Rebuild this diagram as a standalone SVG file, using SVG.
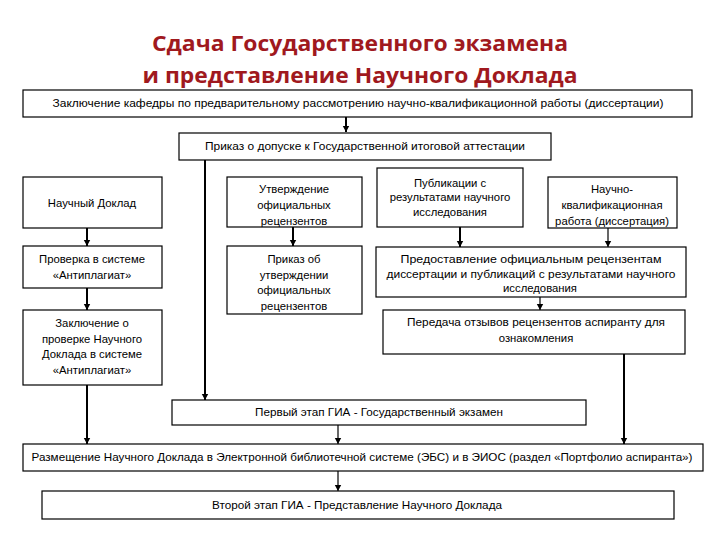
<svg xmlns="http://www.w3.org/2000/svg" width="720" height="540" viewBox="0 0 720 540">
<style>
.box{fill:#fff;stroke:#000;stroke-width:1.2}
.t{font-family:"Liberation Sans",Arial,sans-serif;font-size:11.3px;fill:#000;text-anchor:middle}
.title{font-family:"Open Sans","Noto Sans",sans-serif;font-weight:bold;font-size:22px;fill:#a0191e;text-anchor:middle}
.c{stroke:#000;fill:none}
.w2{stroke-width:2}
.w1{stroke-width:1.2}
</style>
<defs>
<marker id="a" markerUnits="userSpaceOnUse" markerWidth="8" markerHeight="8" refX="7" refY="4" orient="auto" viewBox="0 0 8 8">
<path d="M1,0.8 L7,4 L1,7.2 Z" fill="#000"/>
</marker>
</defs>
<rect width="720" height="540" fill="#fff"/>
<g id="title">
<text class="title" x="360" y="51" textLength="416" lengthAdjust="spacingAndGlyphs">Сдача Государственного экзамена</text>
<text class="title" x="360" y="83" textLength="435" lengthAdjust="spacingAndGlyphs">и представление Научного Доклада</text>
</g>
<g id="connectors">
<path class="c w2" d="M346,117 V132" marker-end="url(#a)"/>
<path class="c w2" d="M205,160 V400" marker-end="url(#a)"/>
<path class="c w2" d="M87,228 V246" marker-end="url(#a)"/>
<path class="c w2" d="M87,288 V310" marker-end="url(#a)"/>
<path class="c w2" d="M87,385 V444" marker-end="url(#a)"/>
<path class="c w2" d="M293,227 V246" marker-end="url(#a)"/>
<path class="c w2" d="M460,227 V247" marker-end="url(#a)"/>
<path class="c w1" d="M608,228 V247" marker-end="url(#a)"/>
<path class="c w1" d="M540,297 V310" marker-end="url(#a)"/>
<path class="c w2" d="M624,354 V444" marker-end="url(#a)"/>
<path class="c w1" d="M338,425 V444" marker-end="url(#a)"/>
<path class="c w1" d="M338,471 V491" marker-end="url(#a)"/>
</g>
<g id="n1">
<rect class="box" x="23" y="90" width="669" height="27"/>
<text class="t" x="358" y="107" textLength="611" lengthAdjust="spacingAndGlyphs">Заключение кафедры по предварительному рассмотрению научно-квалификационной работы (диссертации)</text>
</g>
<g id="n2">
<rect class="box" x="179" y="133" width="372" height="27"/>
<text class="t" x="365" y="150" textLength="320" lengthAdjust="spacingAndGlyphs">Приказ о допуске к Государственной итоговой аттестации</text>
</g>
<g id="n3">
<rect class="box" x="23" y="177" width="139" height="51"/>
<text class="t" x="92" y="207">Научный Доклад</text>
</g>
<g id="n4">
<rect class="box" x="227" y="177" width="135" height="50"/>
<text class="t" x="294" y="193">Утверждение</text>
<text class="t" x="294" y="209">официальных</text>
<text class="t" x="294" y="225">рецензентов</text>
</g>
<g id="n5">
<rect class="box" x="377" y="168" width="146" height="59"/>
<text class="t" x="450" y="187">Публикации с</text>
<text class="t" x="450" y="201">результатами научного</text>
<text class="t" x="450" y="216">исследования</text>
</g>
<g id="n6">
<rect class="box" x="548" y="177" width="129" height="51"/>
<text class="t" x="612" y="193">Научно-</text>
<text class="t" x="612" y="209">квалификационная</text>
<text class="t" x="612" y="225">работа (диссертация)</text>
</g>
<g id="n7">
<rect class="box" x="23" y="246" width="139" height="42"/>
<text class="t" x="92" y="263">Проверка в системе</text>
<text class="t" x="92" y="279">«Антиплагиат»</text>
</g>
<g id="n8">
<rect class="box" x="227" y="246" width="135" height="68"/>
<text class="t" x="294" y="263">Приказ об</text>
<text class="t" x="294" y="279">утверждении</text>
<text class="t" x="294" y="294">официальных</text>
<text class="t" x="294" y="310">рецензентов</text>
</g>
<g id="n9">
<rect class="box" x="376" y="247" width="310" height="50"/>
<text class="t" x="531" y="263" textLength="261" lengthAdjust="spacingAndGlyphs">Предоставление официальным рецензентам</text>
<text class="t" x="531" y="278" textLength="289" lengthAdjust="spacingAndGlyphs">диссертации и публикаций с результатами научного</text>
<text class="t" x="540" y="292">исследования</text>
</g>
<g id="n10">
<rect class="box" x="23" y="310" width="139" height="75"/>
<text class="t" x="92" y="327">Заключение о</text>
<text class="t" x="92" y="343">проверке  Научного</text>
<text class="t" x="92" y="358">Доклада   в системе</text>
<text class="t" x="92" y="374">«Антиплагиат»</text>
</g>
<g id="n11">
<rect class="box" x="383" y="310" width="302" height="44"/>
<text class="t" x="536" y="326" textLength="258" lengthAdjust="spacingAndGlyphs">Передача отзывов рецензентов аспиранту для</text>
<text class="t" x="536" y="342">ознакомления</text>
</g>
<g id="n12">
<rect class="box" x="172" y="400" width="414" height="25"/>
<text class="t" x="379" y="416" textLength="248" lengthAdjust="spacingAndGlyphs">Первый этап ГИА - Государственный экзамен</text>
</g>
<g id="n13">
<rect class="box" x="23" y="444" width="680" height="27"/>
<text class="t" x="362" y="461" textLength="661" lengthAdjust="spacingAndGlyphs">Размещение Научного Доклада в Электронной библиотечной системе (ЭБС) и в ЭИОС (раздел «Портфолио аспиранта»)</text>
</g>
<g id="n14">
<rect class="box" x="42" y="491" width="632" height="28"/>
<text class="t" x="357" y="509" textLength="290" lengthAdjust="spacingAndGlyphs">Второй этап ГИА - Представление Научного Доклада</text>
</g>
</svg>
